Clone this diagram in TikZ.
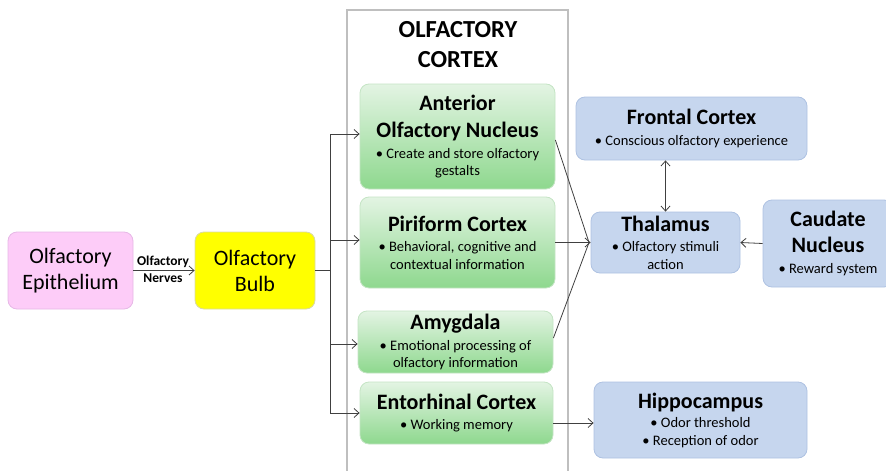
\documentclass[tikz,border=0pt]{standalone}
\usepackage{fontspec}
\setmainfont{Carlito}
\usetikzlibrary{arrows.meta}
\definecolor{pinkf}{HTML}{FDCCF8}
\definecolor{pinkd}{HTML}{E6B8E6}
\definecolor{yelf}{HTML}{FFFF00}
\definecolor{yeld}{HTML}{D9D9A6}
\definecolor{bluef}{HTML}{C6D6EE}
\definecolor{blued}{HTML}{AEC2E2}
\definecolor{greent}{HTML}{E3F4E3}
\definecolor{greenb}{HTML}{8ED88E}
\definecolor{greend}{HTML}{C4E4C4}
\definecolor{linec}{HTML}{404040}
\definecolor{framec}{HTML}{BFBFBF}
\newcommand{\fsz}[2]{\fontsize{#1}{#2}\selectfont}
\tikzset{
  box/.style={rounded corners=9pt, align=center, inner sep=0pt, text=black},
  pinkbox/.style={box, fill=pinkf, draw=pinkd, line width=0.8pt, font=\fsz{22}{26}},
  yelbox/.style={box, fill=yelf, draw=yeld, line width=0.8pt, font=\fsz{22}{26}},
  greenbox/.style={box, top color=greent, bottom color=greenb, draw=greend, line width=0.8pt, font=\fsz{14.5}{17.5}},
  bluebox/.style={box, fill=bluef, draw=blued, line width=0.8pt, font=\fsz{14.5}{17.5}},
  conn/.style={draw=linec, line width=0.8pt},
  arr/.style={conn, -{Straight Barb[length=5pt,width=9pt,line width=0.8pt]}},
  darr/.style={conn, {Straight Barb[length=5pt,width=9pt,line width=0.8pt]}-{Straight Barb[length=5pt,width=9pt,line width=0.8pt]}},
  lbl/.style={font=\fsz{13.5}{16}\bfseries, inner sep=0pt},
}
\newcommand{\ttl}[1]{{\fsz{22}{26}\bfseries #1}}
\begin{document}
\begin{tikzpicture}[x=1pt,y=-1pt]
\useasboundingbox (0,0) rectangle (886,471);
% outer frame
\draw[framec, line width=2pt] (347,10) rectangle (568,480);
\node[font=\fsz{24.5}{30}\bfseries, align=center, inner sep=0pt] (oc) at (458,45) {OLFACTORY\\CORTEX};
% left
\node[pinkbox, minimum width=125pt, minimum height=77pt] (epi) at (70.5,270.5) {Olfactory\\Epithelium};
\node[yelbox, minimum width=120pt, minimum height=77pt] (bulb) at (255,270.5) {Olfactory\\Bulb};
% green
\node[greenbox, minimum width=195pt, minimum height=105pt] (aon) at (457.5,136.5)
  {\ttl{Anterior}\\[9.5pt]\ttl{Olfactory Nucleus}\\[3.5pt]• Create and store olfactory\\gestalts};
\node[greenbox, minimum width=195pt, minimum height=91pt] (pir) at (457.5,242.5)
  {\ttl{Piriform Cortex}\\[3pt]• Behavioral, cognitive and\\contextual information};
\node[greenbox, minimum width=195pt, minimum height=62pt] (amy) at (455.5,342)
  {\ttl{Amygdala}\\[3pt]• Emotional processing of\\olfactory information};
\node[greenbox, minimum width=193pt, minimum height=62pt] (ent) at (456.5,413)
  {\ttl{Entorhinal Cortex}\\[3pt]• Working memory};
% blue
\node[bluebox, minimum width=231pt, minimum height=63pt] (fc) at (691.5,128.5)
  {\ttl{Frontal Cortex}\\[3pt]• Conscious olfactory experience};
\node[bluebox, minimum width=149pt, minimum height=61pt] (thal) at (665.5,242.5)
  {\ttl{Thalamus}\\[3pt]• Olfactory stimuli\\action};
\node[bluebox, minimum width=130pt, minimum height=87pt] (cau) at (828,243.5)
  {\ttl{Caudate}\\[8.5pt]\ttl{Nucleus}\\[3.5pt]• Reward system};
\node[bluebox, minimum width=213pt, minimum height=76pt] (hip) at (700.5,420)
  {\ttl{Hippocampus}\\[2pt]• Odor threshold\\• Reception of odor};
% connectors
\coordinate (nv) at (163,270.5);
\draw[arr] (epi.east) -- (bulb.west);
\node[lbl, anchor=south] (nv1) at ([yshift=3pt]nv) {Olfactory};
\node[lbl, anchor=north] (nv2) at ([yshift=-3.5pt]nv) {Nerves};
\coordinate (split) at (330,270.5);
\draw[conn] (bulb.east) -- (split);
\draw[arr] (split) |- (aon.west |- 0,134);
\draw[arr] (split) |- (pir.west |- 0,240);
\draw[arr] (split) |- (amy.west |- 0,344);
\draw[arr] (split) |- (ent.west |- 0,413);
\coordinate (join) at (589,242.5);
\draw[conn] (aon.east |- 0,140) -- (join);
\draw[conn] (amy.east |- 0,338) -- (join);
\draw[arr] (pir.east |- 0,242.5) -- (thal.west);
\draw[darr] (fc.south -| thal.center) -- (thal.north);
\draw[arr] (cau.west) -- (thal.east);
\draw[arr] (ent.east |- 0,423) -- (hip.west |- 0,423);
\end{tikzpicture}
\end{document}
